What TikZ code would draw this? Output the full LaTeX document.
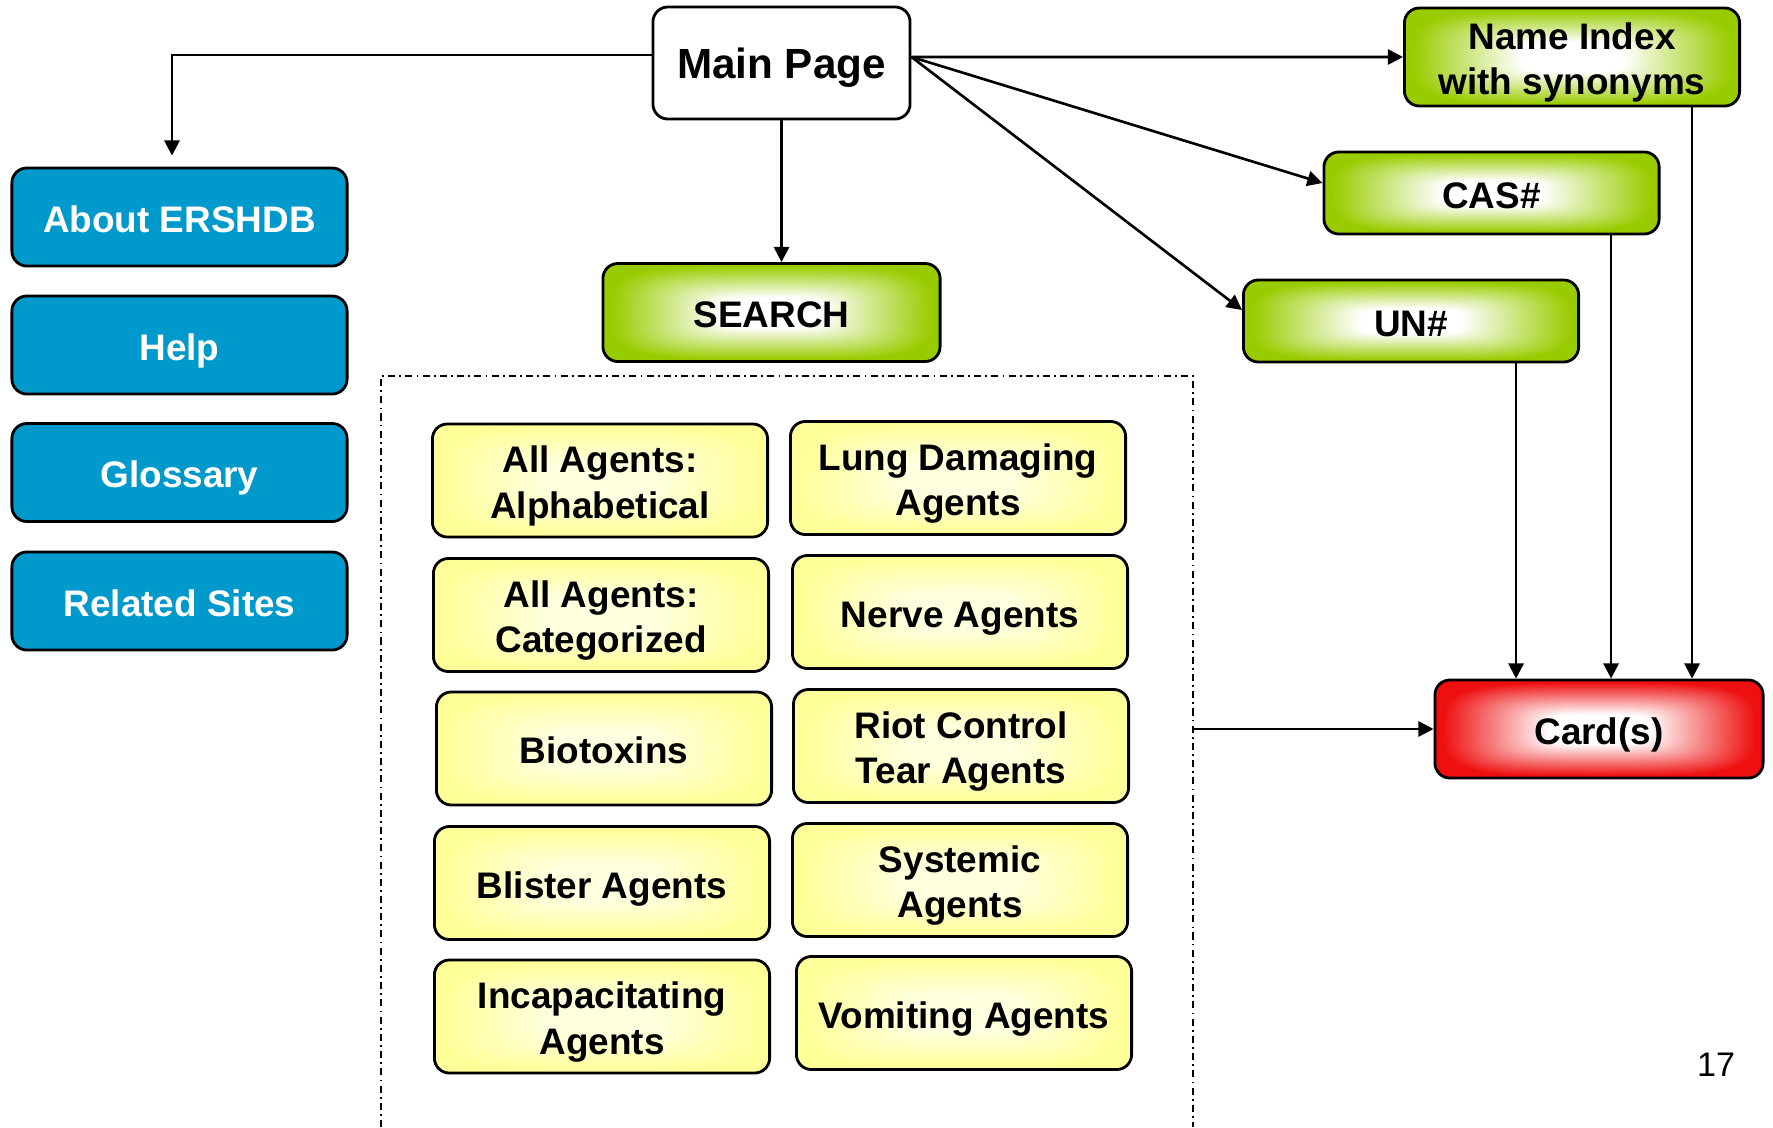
\documentclass[tikz,border=0pt]{standalone}
\usepackage{fontspec}
\setmainfont{Liberation Sans}
\usetikzlibrary{positioning, arrows.meta}
\definecolor{DBBlue}{RGB}{0,153,204}

% rectangular glow: light centre fading out to a coloured rim
% #2 = tint kept at the centre, #3-#5 = 1 - rim colour (r g b)
\newcommand{\declareglow}[5]{%
  \pgfdeclarefunctionalshading{#1}{\pgfpoint{-50bp}{-50bp}}{\pgfpoint{50bp}{50bp}}{}{%
    abs 25 div dup mul dup mul exch abs 25 div dup mul dup mul add sqrt sqrt
    0.3 sub 0.65 div dup 0 lt {pop 0} if dup 1 gt {pop 1} if
    1 #2 sub mul #2 add
    dup dup
    #5 mul 1 exch sub exch
    #4 mul 1 exch sub exch
    3 -1 roll #3 mul 1 exch sub 3 1 roll
  }}
\declareglow{greenglow}{0}{0.4}{0.2}{1.0}
\declareglow{redglow}{0}{0.067}{0.937}{0.937}
\declareglow{yellowglow}{0.3}{0}{0}{0.4}

% centred lines sitting a little low in their box
\newcommand{\boxtext}[1]{\raisebox{-1.7pt}[\height][\depth]{%
  \begin{tabular}{@{}c@{}}#1\end{tabular}}}

\begin{document}
\begin{tikzpicture}[x=0.01cm, y=-0.01cm,
          box/.style={rectangle, rounded corners=0.15cm, draw=black, line width=0.8pt,
                      minimum width=3.35cm, minimum height=0.98cm, inner sep=0pt,
                      font=\bfseries\fontsize{10.5}{13}\selectfont},
          blu/.style={box, fill=DBBlue, text=white},
          grn/.style={box, shading=greenglow},
          ylw/.style={box, shading=yellowglow, minimum height=1.13cm},
          arr/.style={-{Triangle[length=4.3pt, width=4.3pt]}, line width=0.75pt},
          grp/.style={line width=0.6pt, dash pattern=on 2pt off 1.2pt on 0.5pt off 1.2pt}
        ]
        \useasboundingbox (0,0) rectangle (1773,1127);

        % Main page and its targets
        \node[box, fill=white, minimum width=2.57cm, minimum height=1.12cm,
              font=\bfseries\fontsize{12}{14}\selectfont]
              (main) at (781.5,63) {\boxtext{Main Page}};
        \node[grn] (names) at (1572,57) {\boxtext{Name Index\\with synonyms}};
        \node[grn, minimum height=0.82cm] (cas) at (1491.5,193) {\boxtext{CAS\#}};
        \node[grn, minimum height=0.82cm] (un) at (1411,321) {\boxtext{UN\#}};
        \node[grn, minimum width=3.37cm] (search) at (771.5,312.5) {\boxtext{SEARCH}};
        \node[box, shading=redglow, minimum width=3.28cm]
              (card) at (1599,729) {\boxtext{Card(s)}};

        % Side links
        \node[blu] (about)   at (179.5,217)   {\boxtext{About ERSHDB}};
        \node[blu] (help)    at (179.5,345)   {\boxtext{Help}};
        \node[blu] (gloss)   at (179.5,472.5) {\boxtext{Glossary}};
        \node[blu] (related) at (179.5,601)   {\boxtext{Related Sites}};

        % Search categories
        \node[ylw] (alpha)  at (600,480.5)  {\boxtext{All Agents:\\Alphabetical}};
        \node[ylw] (categ)  at (601,615)    {\boxtext{All Agents:\\Categorized}};
        \node[ylw] (bio)    at (604,748.5)  {\boxtext{Biotoxins}};
        \node[ylw] (blist)  at (602,883)    {\boxtext{Blister Agents}};
        \node[ylw] (incap)  at (602,1016.5) {\boxtext{Incapacitating\\Agents}};
        \node[ylw] (lung)   at (958,478)    {\boxtext{Lung Damaging\\Agents}};
        \node[ylw] (nerve)  at (960,612)    {\boxtext{Nerve Agents}};
        \node[ylw] (riot)   at (961,746)    {\boxtext{Riot Control\\Tear Agents}};
        \node[ylw] (syst)   at (960,880)    {\boxtext{Systemic\\Agents}};
        \node[ylw] (vomit)  at (964,1013)   {\boxtext{Vomiting Agents}};

        \coordinate (gTL) at (381,376);
        \coordinate (gTR) at (1193,376);
        \draw[grp] (gTL |- 0,1127) -- (gTL) -- (gTR) -- (gTR |- 0,1127);

        % Connectors
        \draw[arr] ([yshift=0.08cm]main.west) -| ([xshift=-0.075cm, yshift=0.11cm]about.north);
        \draw[arr] ([yshift=0.06cm]main.east) -- (names.west);
        \draw[arr] ([yshift=0.06cm]main.east) -- ([yshift=0.1cm]cas.west);
        \draw[arr] ([yshift=0.06cm]main.east) -- ([yshift=0.11cm]un.west);
        \draw[arr] (main.south) -- (main.south |- search.north);

        \draw[arr] ([xshift=1.2cm]names.south) -- ([xshift=1.2cm]names.south |- card.north);
        \draw[arr] ([xshift=1.195cm]cas.south) -- ([xshift=1.195cm]cas.south |- card.north);
        \draw[arr] ([xshift=1.05cm]un.south) -- ([xshift=1.05cm]un.south |- card.north);
        \draw[arr] (gTR |- card.west) -- (card.west);

        \node[font=\fontsize{9.7}{12}\selectfont] (pg) at (1716,1065) {17};
\end{tikzpicture}
\end{document}
